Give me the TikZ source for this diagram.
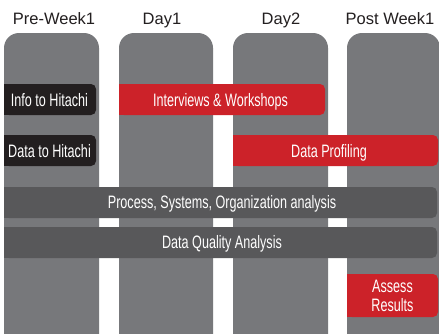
\documentclass[tikz,border=0pt]{standalone}
\usepackage{fontspec}
\setmainfont{Liberation Sans}
\newfontfamily\condfont{Liberation Sans}[FakeStretch=0.70]
\definecolor{colgray}{HTML}{77787B}
\definecolor{bargray}{HTML}{58585A}
\definecolor{barblack}{HTML}{231F20}
\definecolor{barred}{HTML}{CC2229}
\definecolor{hdrtext}{HTML}{231F20}
\begin{document}
\begin{tikzpicture}[x=1pt,y=-1pt,
  hdr/.style={font=\fontsize{16.5}{18}\selectfont, text=hdrtext, inner sep=0pt, anchor=base},
  lbl/.style={font=\condfont\fontsize{18}{19}\selectfont, text=white, inner sep=0pt, anchor=base},
  lbl2/.style={font=\condfont\fontsize{18}{19}\selectfont, text=white, inner sep=0pt, align=center},
  column/.style={fill=colgray, rounded corners=15pt},
  barr/.style={rounded corners=5pt}]
\useasboundingbox (0,0) rectangle (439,333);
\clip (0,0) rectangle (439,333);
\fill[white] (0,0) rectangle (439,333);
% columns
\fill[column] (4,33) rectangle (99,360);
\fill[column] (119,33) rectangle (213,360);
\fill[column] (233,33) rectangle (328,360);
\fill[column] (347,33) rectangle (440,360);
% headers
\node[hdr] (h1) at (54,24) {Pre-Week1};
\node[hdr] (h2) at (162,24) {Day1};
\node[hdr] (h3) at (281,24) {Day2};
\node[hdr] (h4) at (390,24) {Post Week1};
% bars
\fill[barblack, barr] (4,84) rectangle (96,115);
\fill[barblack] (4,84) rectangle (14,115);
\fill[barblack, barr] (4,135) rectangle (96,166);
\fill[barblack] (4,135) rectangle (14,166);
\fill[barred, barr] (119,84) rectangle (325,115);
\fill[barred] (119,84) rectangle (129,115);
\fill[barred, barr] (233,135) rectangle (438,166);
\fill[barred] (233,135) rectangle (243,166);
\fill[bargray, barr] (4,187) rectangle (437,218);
\fill[bargray] (4,187) rectangle (14,218);
\fill[bargray, barr] (4,227) rectangle (437,258);
\fill[bargray] (4,227) rectangle (14,258);
\fill[barred, barr] (347,274) rectangle (438,317);
\fill[barred] (347,274) rectangle (357,317);
% labels
\node[lbl] (info) at (49.5,106) {Info to Hitachi};
\node[lbl] (data) at (49.5,157) {Data to Hitachi};
\node[lbl] (intv) at (220.5,106) {Interviews \& Workshops};
\node[lbl] (prof) at (329,157) {Data Profiling};
\node[lbl] (proc) at (222,208) {Process, Systems, Organization analysis};
\node[lbl] (dqa) at (222,248) {Data Quality Analysis};
\node[lbl2] (assess) at (392.5,295.5) {Assess\\Results};
\end{tikzpicture}
\end{document}
